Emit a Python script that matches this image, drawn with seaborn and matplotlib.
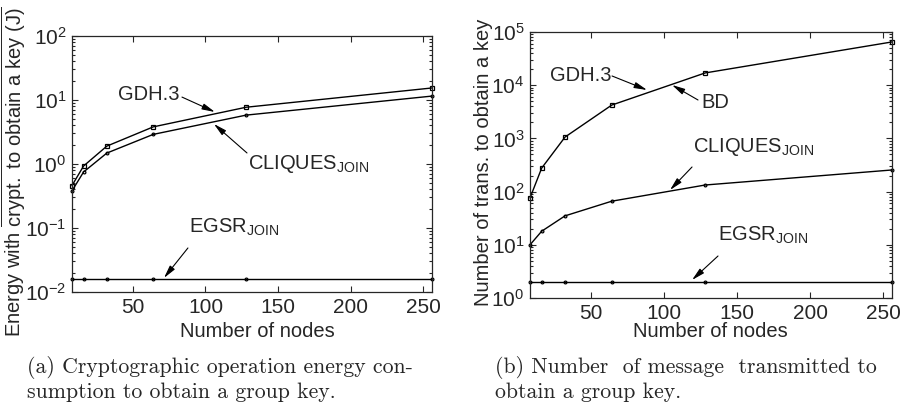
import matplotlib
matplotlib.use("Agg")
import matplotlib.pyplot as plt
import seaborn as sns
import pandas as pd

# number of nodes in the group
nodes = [8, 16, 32, 64, 128, 256]

# (a) energy with crypt. operations (J)
energy_gdh3 = [0.46, 0.93, 1.9, 3.8, 7.7, 15.4]
energy_cliques = [0.38, 0.75, 1.48, 2.9, 5.8, 11.5]
energy_egsr = [0.0158, 0.0158, 0.0158, 0.0158, 0.0158, 0.0158]

# (b) number of transmitted messages
msg_gdh3 = [76, 277, 1060, 4230, 17000, 65000]
msg_cliques = [10, 18, 35, 66, 133, 255]
msg_egsr = [2, 2, 2, 2, 2, 2]

x_ticks = [50, 100, 150, 200, 250]

sns.set_style("ticks")
plt.rcParams["font.family"] = ["Liberation Sans", "DejaVu Sans"]
plt.rcParams["mathtext.fontset"] = "custom"
plt.rcParams["mathtext.rm"] = "Liberation Sans"
plt.rcParams["mathtext.it"] = "Liberation Sans:italic"
plt.rcParams["mathtext.bf"] = "Liberation Sans:bold"
plt.rcParams["font.size"] = 14

fig = plt.figure(figsize=(9.02, 4.07), dpi=100)
ax1 = fig.add_axes([0.0798, 0.2826, 0.399, 0.629])
ax2 = fig.add_axes([0.5876, 0.2678, 0.4013, 0.6536])

def draw(ax, y, marker, ms):
    df = pd.DataFrame({"n": nodes, "v": y})
    sns.lineplot(data=df, x="n", y="v", ax=ax, color="black", lw=1.0,
                 marker=marker, markersize=ms, markerfacecolor="none",
                 markeredgecolor="black", markeredgewidth=0.9, clip_on=False)

# left panel
draw(ax1, energy_gdh3, "s", 3)
draw(ax1, energy_cliques, ".", 4)
draw(ax1, energy_egsr, ".", 4)
# right panel
draw(ax2, msg_gdh3, "s", 3)
draw(ax2, msg_cliques, ".", 4)
draw(ax2, msg_egsr, ".", 4)

for ax, ylim in [(ax1, (1e-2, 1e2)), (ax2, (1, 1e5))]:
    ax.set_yscale("log")
    ax.set_xlim(8, 256)
    ax.set_ylim(*ylim)
    ax.set_xticks(x_ticks)
    ax.tick_params(which="both", direction="in", top=True, right=True,
                   labelsize=15, width=0.8)
    ax.tick_params(which="major", length=4, pad=4)
    ax.tick_params(which="minor", length=2)
    for s in ax.spines.values():
        s.set_linewidth(0.9)

ax1.set_xlabel("Number of nodes", fontsize=14.5, va="top")
ax1.xaxis.set_label_coords(0.515, -0.118)
ax1.set_ylabel(r"Energy with $\overline{\mathrm{crypt.\ to\ obtain\ a\ key\ (J)}}$", fontsize=14.5)
ax1.yaxis.set_label_coords(-0.122, 0.469)

ax2.set_xlabel("Number of nodes", fontsize=14.5, va="top")
ax2.xaxis.set_label_coords(0.4986, -0.09)
ax2.set_ylabel("Number of trans. to obtain a key", fontsize=14.5)
ax2.yaxis.set_label_coords(-0.102, 0.511)

arrow = dict(arrowstyle="-|>,head_length=0.55,head_width=0.13", color="black", lw=0.8,
             shrinkA=0, shrinkB=0)

# annotations (a)
ax1.text(39.7, 12.0, "GDH.3", ha="left", va="center", fontsize=14.5)
ax1.annotate("", xy=(106.5, 6.49), xytext=(83.8, 11.1), arrowprops=arrow)
ax1.text(129.2, 1.0, r"CLIQUES$_{\mathrm{JOIN}}$", ha="left", va="center", fontsize=14.5)
ax1.annotate("", xy=(105.8, 4.22), xytext=(128.6, 1.486), arrowprops=arrow)
ax1.text(88.6, 0.104, r"EGSR$_{\mathrm{JOIN}}$", ha="left", va="center", fontsize=14.5)
ax1.annotate("", xy=(71.4, 0.01656), xytext=(87.9, 0.0487), arrowprops=arrow)

# annotations (b)
ax2.text(21.7, 15500, "GDH.3", ha="left", va="center", fontsize=14.5)
ax2.annotate("", xy=(88.2, 8120), xytext=(64.2, 14900), arrowprops=arrow)
ax2.text(125.1, 4830, "BD", ha="left", va="center", fontsize=14.5)
ax2.annotate("", xy=(105.3, 10090), xytext=(123.1, 5270), arrowprops=arrow)
ax2.text(119.7, 689, r"CLIQUES$_{\mathrm{JOIN}}$", ha="left", va="center", fontsize=14.5)
ax2.annotate("", xy=(103.9, 107), xytext=(119.0, 290), arrowprops=arrow)
ax2.text(136.8, 15.3, r"EGSR$_{\mathrm{JOIN}}$", ha="left", va="center", fontsize=14.5)
ax2.annotate("", xy=(119.0, 2.18), xytext=(136.8, 6.16), arrowprops=arrow)

# captions
fig.text(0.03, 0.126, "(a) Cryptographic operation energy con-\nsumption to obtain a group key.",
         family="cmr10", fontsize=15.7, ha="left", va="top", linespacing=1.25)
fig.text(0.549, 0.126, "(b) Number  of message  transmitted to\nobtain a group key.",
         family="cmr10", fontsize=15.7, ha="left", va="top", linespacing=1.25)

fig.savefig("out.png", dpi=100)
